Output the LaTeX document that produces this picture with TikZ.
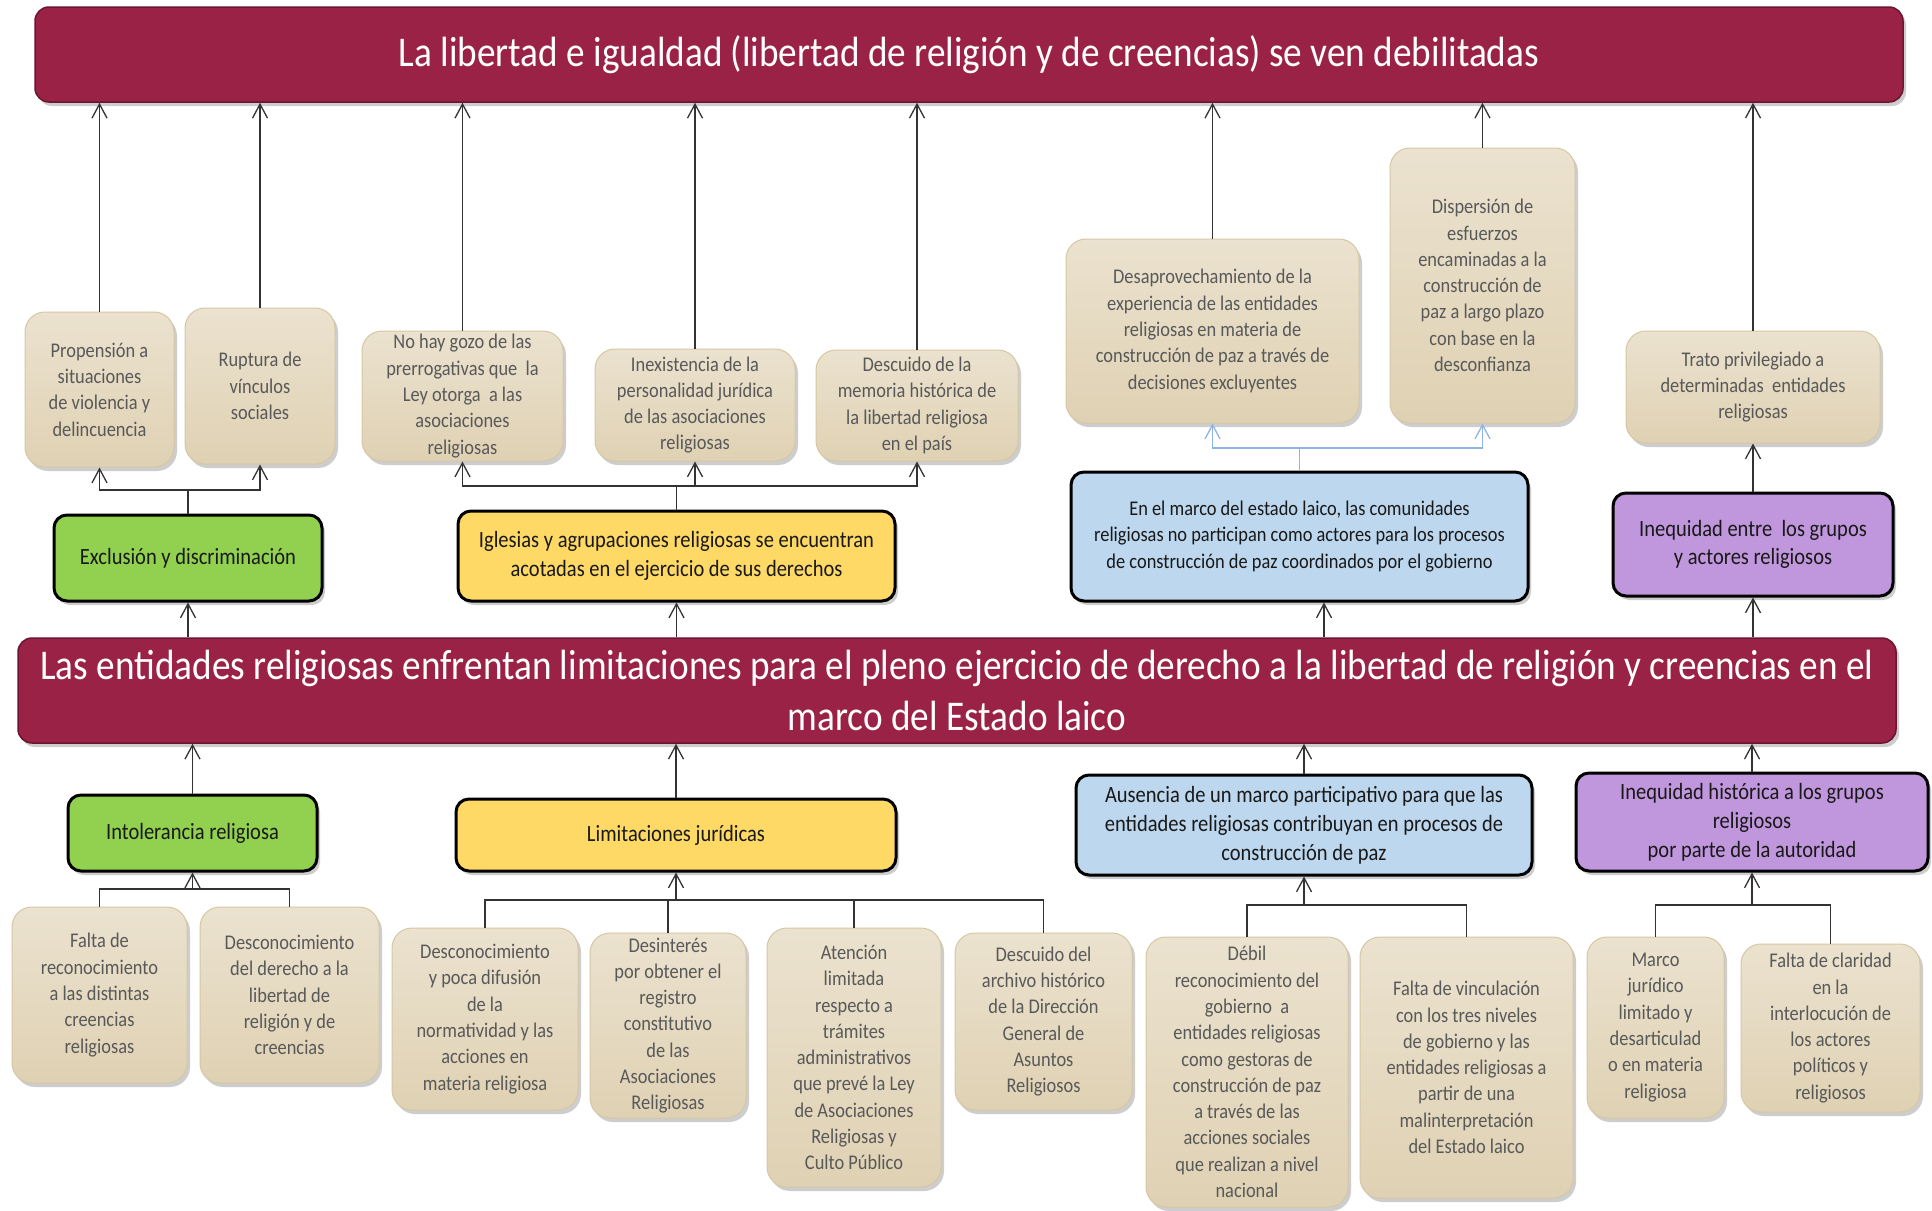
\documentclass[tikz,border=0pt]{standalone}
\usepackage{fontspec}
\setmainfont{Carlito}[FakeStretch=0.88]
\usetikzlibrary{arrows.meta,shadows}
\definecolor{maroon}{HTML}{9B2247}
\definecolor{maroonb}{HTML}{6B1530}
\definecolor{cgreen}{HTML}{92D050}
\definecolor{cyellow}{HTML}{FFD966}
\definecolor{cblue}{HTML}{BDD7EE}
\definecolor{cpurple}{HTML}{C096DC}
\definecolor{tantop}{HTML}{EBE2CF}
\definecolor{tanbot}{HTML}{DFD1B3}
\definecolor{tanline}{HTML}{D6C7A4}
\definecolor{tantext}{HTML}{595959}
\definecolor{linec}{HTML}{333333}
\definecolor{blueline}{HTML}{8DB4E2}
\tikzset{
  shad/.style={drop shadow={shadow xshift=3pt,shadow yshift=-4pt,opacity=0.28,fill=black!70}},
  tanbox/.style={shad,draw=tanline,line width=1pt,rounded corners=20pt,top color=tantop,bottom color=tanbot,
    text=tantext,align=center,inner sep=0pt,font={\fontsize{20.9}{26.3}\selectfont}},
  colbox/.style={shad,draw=black,line width=3pt,rounded corners=13pt,text=black!90,align=center,inner sep=0pt,
    font={\fontsize{23.3}{28.8}\selectfont}},
  titlebox/.style={shad,draw=maroonb,line width=1.5pt,fill=maroon,rounded corners=14pt,text=white,align=center,
    inner sep=0pt,font={\fontsize{42.3}{51}\selectfont}},
  arr/.style={-{Straight Barb[length=14pt,width=15pt]},line width=1.3pt,draw=linec},
  plain/.style={line width=1.3pt,draw=linec},
  barr/.style={-{Straight Barb[length=14pt,width=15pt]},line width=1.3pt,draw=blueline},
  bplain/.style={line width=1.3pt,draw=blueline},
}
\begin{document}
\begin{tikzpicture}[x=1pt,y=-1pt]
\fill[white] (0,0) rectangle (1932,1210);
\useasboundingbox (0,0) rectangle (1932,1210);

% titles
\node[titlebox,minimum width=1868pt,minimum height=95pt] (T) at (969,54.5)
  {La libertad e igualdad (libertad de religión y de creencias) se ven debilitadas};
\node[titlebox,minimum width=1878pt,minimum height=105pt] (M) at (957,690.5)
  {Las entidades religiosas enfrentan limitaciones para el pleno ejercicio de derecho a la libertad de religión y creencias en el\\marco del Estado laico};

% top row tan boxes
\node[tanbox,minimum width=149pt,minimum height=155pt] (t1) at (99.5,389.5) {Propensión a\\situaciones\\de violencia y\\delincuencia};
\node[tanbox,minimum width=150pt,minimum height=156pt] (t2) at (260,386) {Ruptura de\\vínculos\\sociales};
\node[tanbox,minimum width=201pt,minimum height=130pt] (t3) at (462.5,396) {No hay gozo de las\\prerrogativas que\ \ la\\Ley otorga\ \ a las\\asociaciones\\religiosas};
\node[tanbox,minimum width=200pt,minimum height=112pt] (t4) at (695,405) {Inexistencia de la\\personalidad jurídica\\de las asociaciones\\religiosas};
\node[tanbox,minimum width=202pt,minimum height=111pt] (t5) at (917,405.5) {Descuido de la\\memoria histórica de\\la libertad religiosa\\en el país};
\node[tanbox,minimum width=293pt,minimum height=184pt] (t6) at (1212.5,331) {Desaprovechamiento de la\\experiencia de las entidades\\religiosas en materia de\\construcción de paz a través de\\decisiones excluyentes};
\node[tanbox,minimum width=185pt,minimum height=275pt] (t7) at (1482.5,285.5) {Dispersión de\\esfuerzos\\encaminadas a la\\construcción de\\paz a largo plazo\\con base en la\\desconfianza};
\node[tanbox,minimum width=254pt,minimum height=112pt] (t8) at (1753,387) {Trato privilegiado a\\determinadas\ \ entidades\\religiosas};

% upper colored boxes
\node[colbox,fill=cgreen,minimum width=268pt,minimum height=86pt] (c1) at (188,558) {Exclusión y discriminación};
\node[colbox,fill=cyellow,minimum width=437pt,minimum height=90pt] (c2) at (676.5,556) {Iglesias y agrupaciones religiosas se encuentran\\acotadas en el ejercicio de sus derechos};
\node[colbox,fill=cblue,minimum width=457pt,minimum height=129pt,font={\fontsize{20.9}{26.3}\selectfont}] (c3) at (1299.5,536.5) {En el marco del estado laico, las comunidades\\religiosas no participan como actores para los procesos\\de construcción de paz coordinados por el gobierno};
\node[colbox,fill=cpurple,minimum width=280pt,minimum height=103pt] (c4) at (1753,544.5) {Inequidad entre\ \ los grupos\\y actores religiosos};

% lower colored boxes
\node[colbox,fill=cgreen,minimum width=249pt,minimum height=76pt] (d1) at (192.5,833) {Intolerancia religiosa};
\node[colbox,fill=cyellow,minimum width=440pt,minimum height=72pt] (d2) at (676,835) {Limitaciones jurídicas};
\node[colbox,fill=cblue,minimum width=456pt,minimum height=100pt] (d3) at (1304,825) {Ausencia de un marco participativo para que las\\entidades religiosas contribuyan en procesos de\\construcción de paz};
\node[colbox,fill=cpurple,minimum width=352pt,minimum height=98pt] (d4) at (1752,822) {Inequidad histórica a los grupos\\religiosos\\por parte de la autoridad};

% bottom tan boxes
\node[tanbox,minimum width=175pt,minimum height=176pt] (b1) at (99.5,995) {Falta de\\reconocimiento\\a las distintas\\creencias\\religiosas};
\node[tanbox,minimum width=179pt,minimum height=176pt] (b2) at (289.5,995) {Desconocimiento\\del derecho a la\\libertad de\\religión y de\\creencias};
\node[tanbox,minimum width=186pt,minimum height=182pt] (b3) at (485,1019) {Desconocimiento\\y poca difusión\\de la\\normatividad y las\\acciones en\\materia religiosa};
\node[tanbox,minimum width=156pt,minimum height=185pt] (b4) at (668,1025.5) {Desinterés\\por obtener el\\registro\\constitutivo\\de las\\Asociaciones\\Religiosas};
\node[tanbox,minimum width=174pt,minimum height=259pt] (b5) at (854,1057.5) {Atención\\limitada\\respecto a\\trámites\\administrativos\\que prevé la Ley\\de Asociaciones\\Religiosas y\\Culto Público};
\node[tanbox,minimum width=177pt,minimum height=177pt] (b6) at (1043.5,1021.5) {Descuido del\\archivo histórico\\de la Dirección\\General de\\Asuntos\\Religiosos};
\node[tanbox,minimum width=202pt,minimum height=270pt] (b7) at (1247,1072) {Débil\\reconocimiento del\\gobierno\ \ a\\entidades religiosas\\como gestoras de\\construcción de paz\\a través de las\\acciones sociales\\que realizan a nivel\\nacional};
\node[tanbox,minimum width=213pt,minimum height=261pt] (b8) at (1466.5,1067.5) {Falta de vinculación\\con los tres niveles\\de gobierno y las\\entidades religiosas a\\partir de una\\malinterpretación\\del Estado laico};
\node[tanbox,minimum width=137pt,minimum height=181pt] (b9) at (1655.5,1027.5) {Marco\\jurídico\\limitado y\\desarticulad\\o en materia\\religiosa};
\node[tanbox,minimum width=179pt,minimum height=168pt] (b10) at (1830.5,1028) {Falta de claridad\\en la\\interlocución de\\los actores\\políticos y\\religiosos};

% junction levels
\coordinate (y1) at (0,490);
\coordinate (y2) at (0,486);
\coordinate (y3) at (0,448);
\coordinate (y4) at (0,889);
\coordinate (y5) at (0,900);
\coordinate (y6) at (0,905);

% arrows to top title
\foreach \n in {t1,t2,t3,t4,t5,t6,t7,t8}
  \draw[arr] (\n.north) -- (\n.north |- T.south);

% upper brackets
\draw[plain] (c1.north) -- (c1.north |- y1);
\draw[arr] (c1.north |- y1) -| (t1.south);
\draw[arr] (c1.north |- y1) -| (t2.south);
\draw[plain] (c2.north) -- (c2.north |- y2);
\draw[arr] (c2.north |- y2) -| (t3.south);
\draw[arr] (c2.north |- y2) -| (t4.south);
\draw[arr] (c2.north |- y2) -| (t5.south);
\draw[bplain] (c3.north) -- (c3.north |- y3);
\draw[barr] (c3.north |- y3) -| (t6.south);
\draw[barr] (c3.north |- y3) -| (t7.south);
\draw[arr] (c4.north) -- (t8.south);

% middle title to upper colored boxes
\draw[arr] (c1.south |- M.north) -- (c1.south);
\draw[arr] (c2.south |- M.north) -- (c2.south);
\draw[arr] ([xshift=24.5pt]c3.south |- M.north) -- ([xshift=24.5pt]c3.south);
\draw[arr] (c4.south |- M.north) -- (c4.south);

% lower colored boxes to middle title
\foreach \n in {d1,d2,d3,d4}
  \draw[arr] (\n.north) -- (\n.north |- M.south);

% bottom brackets
\draw[plain] (b1.north) |- (b2.north |- y4) -- (b2.north);
\draw[arr] (d1.south |- y4) -- (d1.south);
\draw[plain] (b3.north) |- (b6.north |- y5) -- (b6.north);
\draw[plain] (b4.north) -- (b4.north |- y5);
\draw[plain] (b5.north) -- (b5.north |- y5);
\draw[arr] (d2.south |- y5) -- (d2.south);
\draw[plain] (b7.north) |- (b8.north |- y6) -- (b8.north);
\draw[arr] (d3.south |- y6) -- (d3.south);
\draw[plain] (b9.north) |- (b10.north |- y6) -- (b10.north);
\draw[arr] (d4.south |- y6) -- (d4.south);
\end{tikzpicture}
\end{document}
